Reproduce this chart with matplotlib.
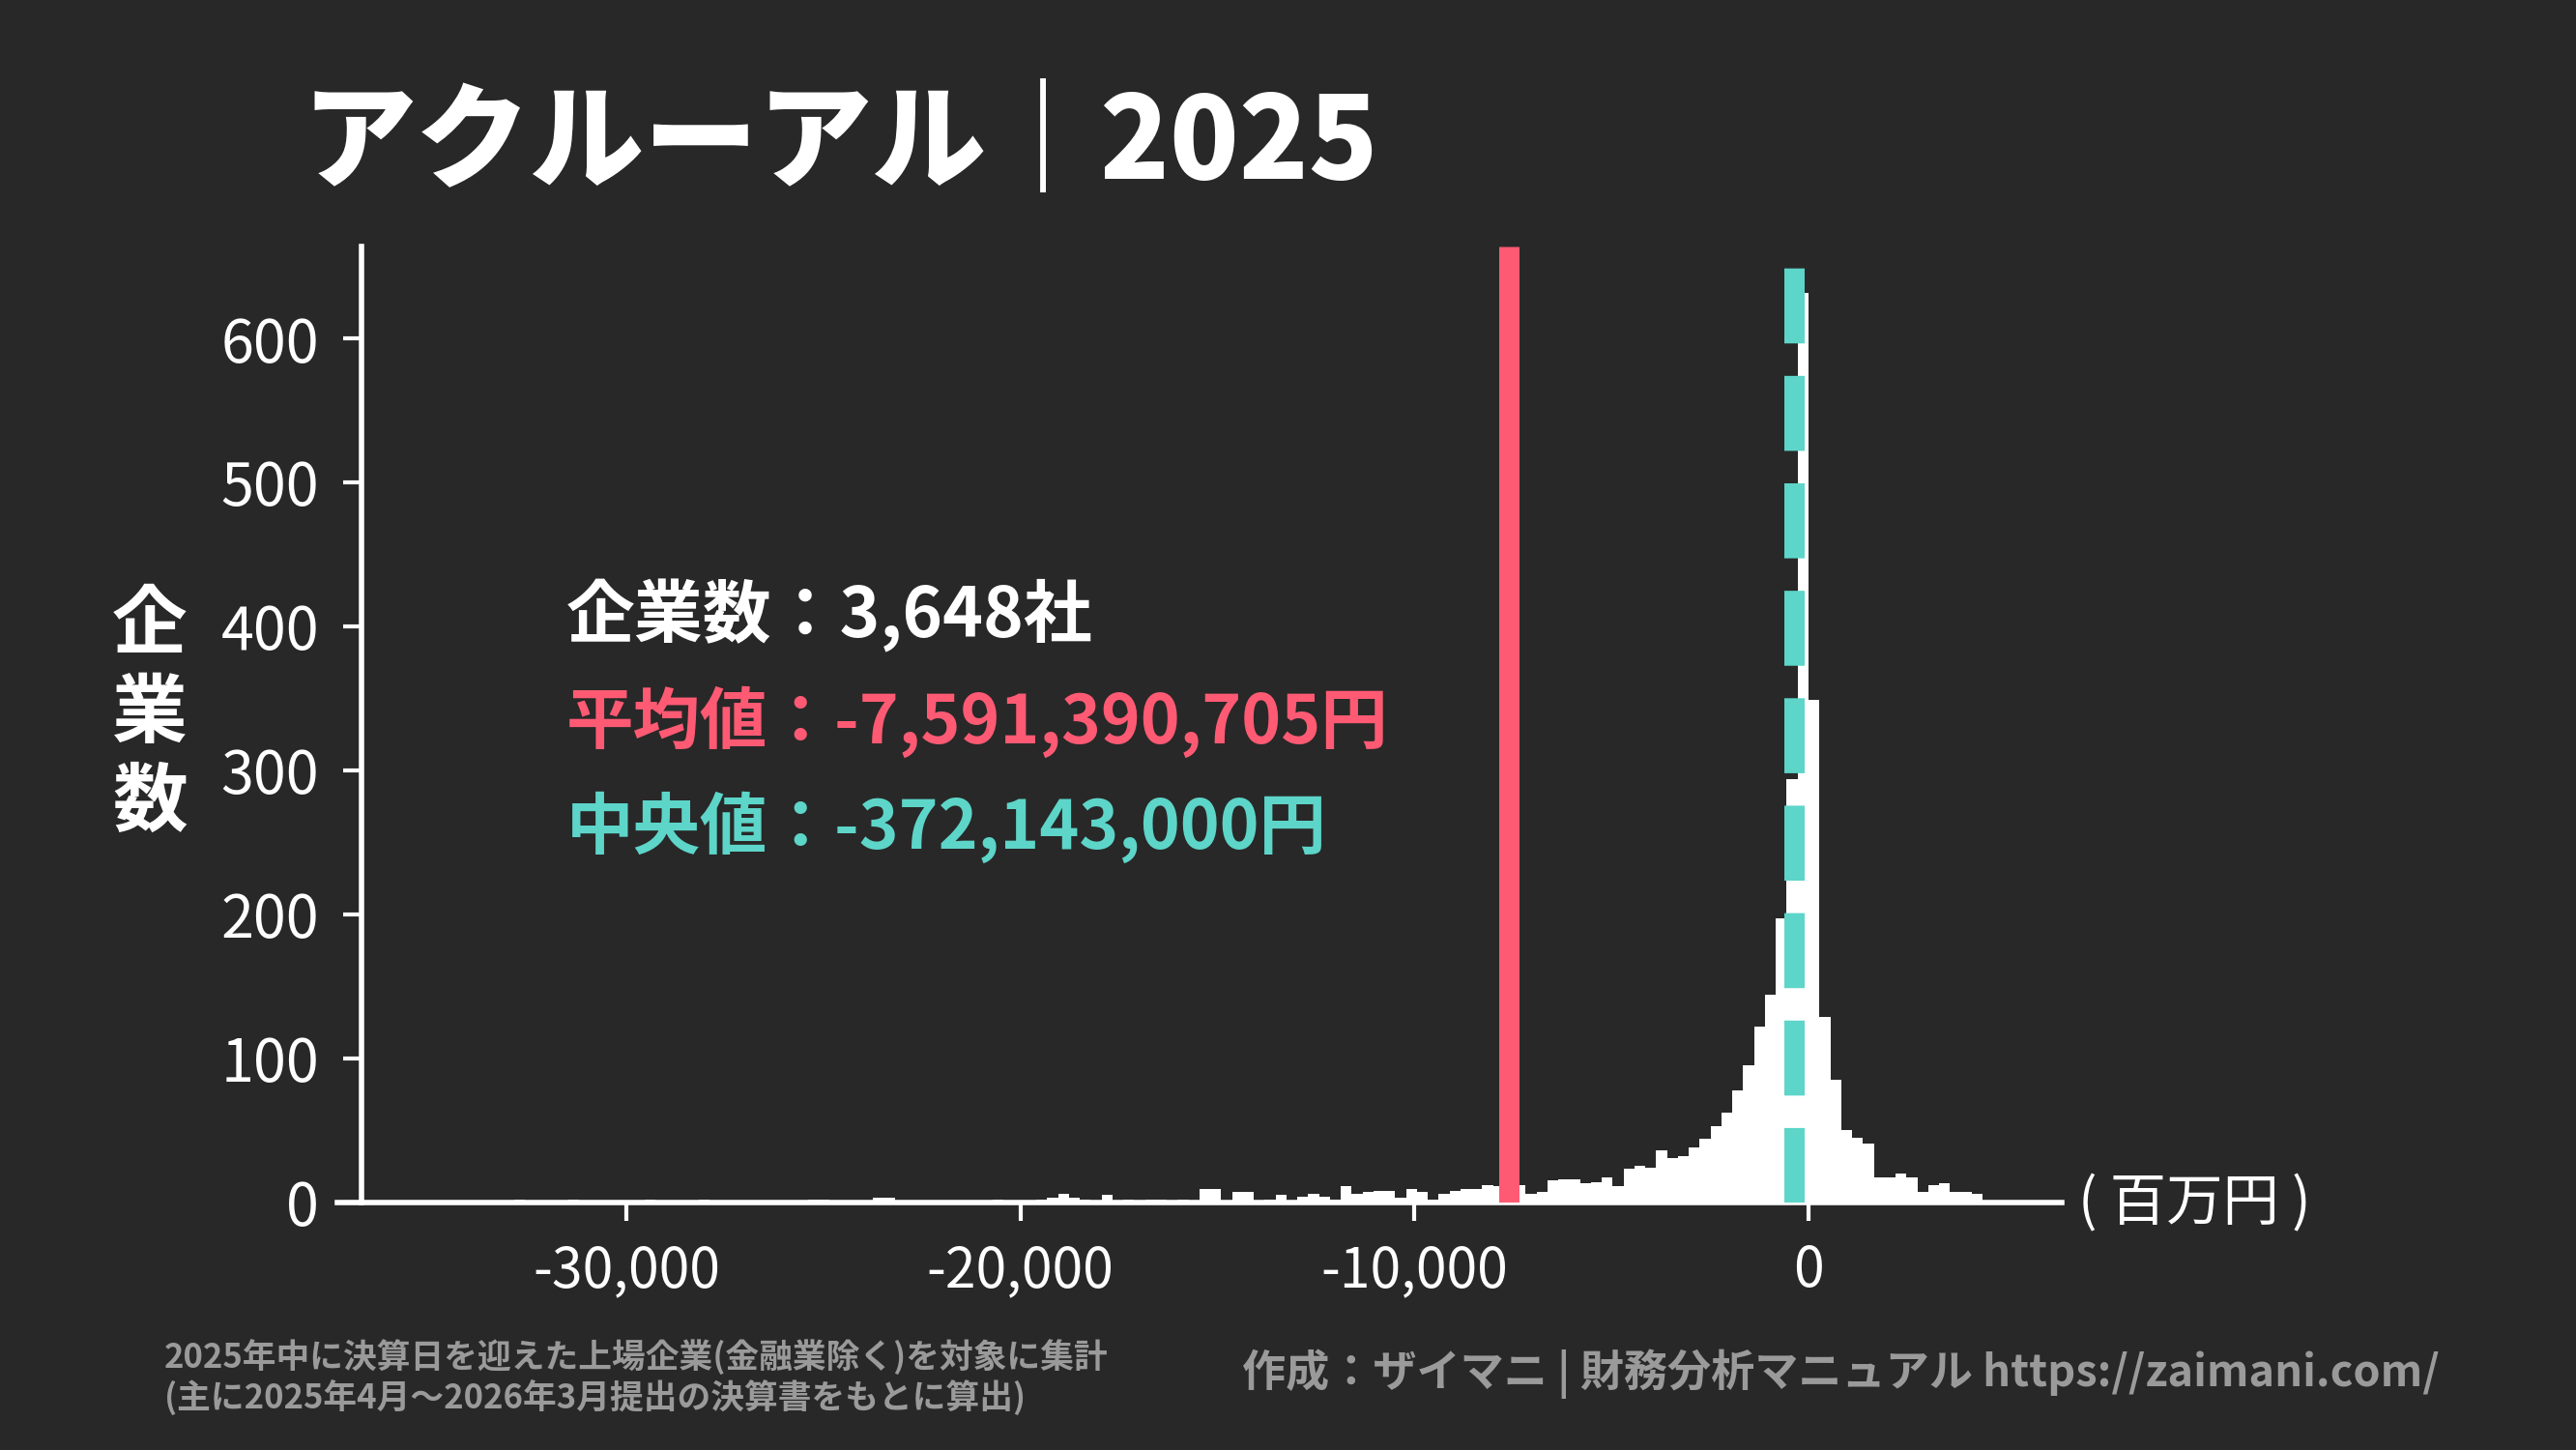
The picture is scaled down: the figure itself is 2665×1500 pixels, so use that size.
import numpy as np
import matplotlib
matplotlib.use("Agg")
import matplotlib.pyplot as plt
from matplotlib.ticker import FuncFormatter

plt.rcParams['font.family'] = ['Noto Sans CJK JP', 'DejaVu Sans']

# ---------------- data ----------------
title = "アクルーアル｜2025"
company_count_text = "企業数：3,648社"
mean_text = "平均値：-7,591,390,705円"
median_text = "中央値：-372,143,000円"
ylabel_text = "企\n業\n数"
unit_text = "( 百万円 )"
note_lines = ["2025年中に決算日を迎えた上場企業(金融業除く)を対象に集計",
              "(主に2025年4月～2026年3月提出の決算書をもとに算出)"]
credit_text = "作成：ザイマニ | 財務分析マニュアル https://zaimani.com/"

mean_value = -7591.390705      # million yen
median_value = -372.143        # million yen

bin_width = 276                # million yen
first_edge = -36708            # million yen (left edge of first bin)

counts = [
    # k=-133 .. -126
    1, 0, 0, 0, 0, 0, 0, 0,
    # k=-125 .. -93
    1, 1, 0, 1, 1, 1, 2, 1, 0, 1, 1, 2, 1, 0, 1, 1, 0, 1, 2, 1, 0, 1, 1, 2,
    1, 0, 1, 1, 0, 1, 1, 0, 1,
    # k=-92 .. -48
    2, 2, 1, 1, 0, 1, 3, 3, 1, 0, 1, 1, 1, 0, 1, 0, 1, 2, 1, 0, 1, 2, 3, 6,
    3, 2, 1, 5, 1, 2, 1, 2, 2, 1, 2, 1, 9, 9, 1, 7, 7, 1, 2, 5, 1,
    # k=-47 .. -16
    4, 6, 4, 2, 11, 6, 7, 8, 8, 3, 9, 7, 2, 6, 8, 9, 9, 12, 11, 11, 12, 6, 7,
    15, 16, 16, 13, 14, 17, 11, 23, 25,
    # k=-15 .. 15
    24, 36, 31, 32, 38, 44, 53, 62, 78, 95, 122, 144, 197, 294, 632,
    349, 129, 85, 50, 45, 41, 17, 17, 20, 17, 7, 12, 13, 7, 7, 6,
]

x_ticks = [-30000, -20000, -10000, 0]
y_ticks = [0, 100, 200, 300, 400, 500, 600]

# ---------------- style ----------------
BG = '#282828'
RED = '#FF5A73'
TEAL = '#5DD5C9'
GREY = '#9A9A9A'

W, H = 2665, 1500
fig = plt.figure(figsize=(W / 100, H / 100), dpi=100, facecolor=BG)

ax_left, ax_right = 349, 2133
ax_top, ax_bottom = 255, 1243.7
ax = fig.add_axes([ax_left / W, (H - ax_bottom) / H,
                   (ax_right - ax_left) / W, (ax_bottom - ax_top) / H])
ax.set_facecolor(BG)

counts_arr = np.asarray(counts, dtype=float)
lefts = first_edge + bin_width * np.arange(len(counts_arr))
ax.bar(lefts, counts_arr, width=bin_width, align='edge',
       color='white', linewidth=0, zorder=2)

ax.axvline(mean_value, color=RED, linewidth=15.1, zorder=3,
           solid_capstyle='butt')
ax.axvline(median_value, color=TEAL, linewidth=15.1, linestyle='--',
           zorder=4, dash_capstyle='butt')

ax.set_xlim(-37330, 6426)
ax.set_ylim(0, 664)

for s in ['top', 'right']:
    ax.spines[s].set_visible(False)
for s in ['left', 'bottom']:
    ax.spines[s].set_color('white')
    ax.spines[s].set_linewidth(4)
ax.spines['left'].set_position(('data', first_edge))

ax.set_xticks(x_ticks)
ax.set_yticks(y_ticks)
ax.xaxis.set_major_formatter(FuncFormatter(lambda v, p: f"{int(v):,}"))
ax.tick_params(axis='both', colors='white', length=14, width=3,
               labelcolor='white')
ax.tick_params(axis='x', pad=16, labelsize=41)
ax.tick_params(axis='y', pad=18, labelsize=44)

# ---------------- texts ----------------
fig.text(312 / W, 1 - 150 / H, title, color='white', fontsize=85,
         fontweight='heavy', ha='left', va='center')

fig.text(155 / W, 1 - 739 / H, ylabel_text, color='white', fontsize=56,
         fontweight='bold', ha='center', va='center', linespacing=1.2)

fig.text(586 / W, 1 - 637 / H, company_count_text, color='white',
         fontsize=51, fontweight='bold', ha='left', va='center')
fig.text(586 / W, 1 - 747 / H, mean_text, color=RED,
         fontsize=50, fontweight='bold', ha='left', va='center')
fig.text(586 / W, 1 - 856 / H, median_text, color=TEAL,
         fontsize=50, fontweight='bold', ha='left', va='center')

fig.text(2150 / W, 1 - 1246 / H, unit_text, color='white', fontsize=42,
         ha='left', va='center')

fig.text(170 / W, 1 - 1404 / H, note_lines[0], color=GREY, fontsize=25,
         fontweight='bold', ha='left', va='center')
fig.text(170 / W, 1 - 1446 / H, note_lines[1], color=GREY, fontsize=25,
         fontweight='bold', ha='left', va='center')

fig.text(2524 / W, 1 - 1421 / H, credit_text, color=GREY, fontsize=32.5,
         fontweight='bold', ha='right', va='center')

fig.savefig('out.png', dpi=100, facecolor=BG)
